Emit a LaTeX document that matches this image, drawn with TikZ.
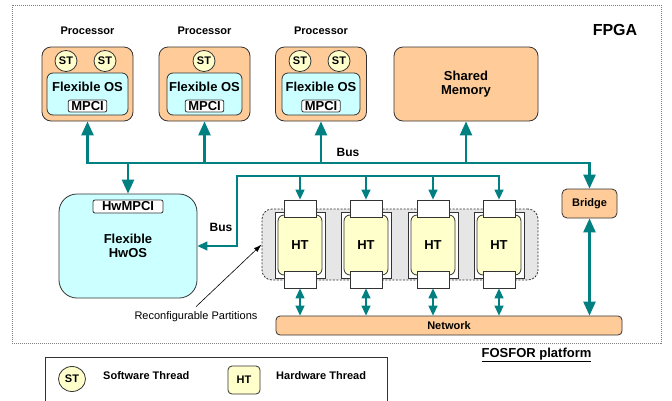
\documentclass[tikz,border=0pt]{standalone}
\usepackage{fontspec}
\setmainfont{Liberation Sans}
\usetikzlibrary{arrows.meta,shapes.geometric}
\definecolor{peach}{RGB}{255,204,153}
\definecolor{icecyan}{RGB}{204,255,255}
\definecolor{paleyel}{RGB}{255,255,204}
\definecolor{busteal}{RGB}{0,128,128}
\definecolor{partgray}{RGB}{230,230,230}
\tikzset{
  lbl/.style={inner sep=0pt, font=\fontsize{11}{13}\selectfont\bfseries},
  big/.style={inner sep=0pt, font=\fontsize{13}{14}\selectfont\bfseries},
  box/.style={draw=black!80, line width=0.8pt, inner sep=0pt},
  proc/.style={box, fill=peach, rounded corners=9pt, minimum width=91pt, minimum height=74pt},
  osbox/.style={box, fill=icecyan, rounded corners=6pt, minimum height=42pt},
  tag/.style={box, fill=white, rounded corners=2pt, minimum height=12pt, inner xsep=3pt,
    font=\fontsize{13}{14}\selectfont\bfseries},
  sthread/.style={box, ellipse, fill=paleyel, minimum width=22pt, minimum height=21pt,
    font=\fontsize{11}{12}\selectfont\bfseries},
  hthread/.style={box, fill=paleyel, rounded corners=6pt, minimum width=44pt, minimum height=60pt,
    font=\fontsize{13}{14}\selectfont\bfseries},
  port/.style={box, fill=white, minimum width=32pt, minimum height=17pt},
  tip/.tip={Triangle[length=14pt, width=12pt]},
  stip/.tip={Triangle[length=10pt, width=9pt]},
  bus/.style={busteal, line width=2.5pt},
  tbus/.style={busteal, line width=1.3pt},
}
\begin{document}
\begin{tikzpicture}[x=1pt, y=-1pt]
  \useasboundingbox (0,0) rectangle (672,400);
  \clip (0,0) rectangle (672,400);

  \draw[gray, dash pattern=on 1pt off 1pt] (12,5) rectangle (661,343);
  \node[inner sep=0pt, font=\fontsize{16}{18}\selectfont\bfseries] (fpga) at (615,30) {FPGA};

  % processors
  \foreach \x/\w [count=\i] in {87.5/81, 204.5/75, 321/78} {
    \node[lbl] (ptitle\i) at (\x,31) {Processor};
    \node[proc] (proc\i) at (\x,84) {};
    \node[osbox, minimum width=\w] (os\i) at (\x,94) {};
    \node[big] (osname\i) at (\x,87) {Flexible OS};
    \node[tag] (mpci\i) at (\x,106) {MPCI};
  }
  \node[sthread] (st1a) at (66,61) {ST};
  \node[sthread] (st1b) at (105,61) {ST};
  \node[sthread] (st2a) at (204,61) {ST};
  \node[sthread] (st3a) at (300,61) {ST};
  \node[sthread] (st3b) at (339,61) {ST};

  \node[proc, minimum width=144pt, big, align=center] (shmem) at (466,84) {Shared\\Memory};

  \node[box, fill=icecyan, rounded corners=18pt, minimum width=138pt, minimum height=104pt,
    big, align=center] (hwos) at (128,246) {Flexible\\HwOS};
  \node[tag, minimum width=70pt, minimum height=13pt] (hwmpci) at (128,206.5) {HwMPCI};

  \node[box, fill=peach, rounded corners=5pt, minimum width=55pt, minimum height=29pt,
    font=\fontsize{11}{12}\selectfont\bfseries] (bridge) at (589.5,203.5) {Bridge};
  \node[box, fill=peach, rounded corners=4pt, minimum width=346pt, minimum height=19pt,
    font=\fontsize{11}{12}\selectfont\bfseries] (net) at (449,325.5) {Network};

  % reconfigurable partitions
  \node[draw=black!80, line width=0.8pt, dash pattern=on 2pt off 1.5pt, fill=partgray,
    rounded corners=10pt, minimum width=276pt, minimum height=71pt] (rp) at (400,244.5) {};
  \foreach \x [count=\i] in {300,366,433,499} {
    \node[box, fill=white, minimum width=50pt, minimum height=66pt] (slot\i) at (\x,245) {};
    \node[hthread] (ht\i) at (\x,245) {HT};
    \node[port] (tp\i) at (\x,208.5) {};
    \node[port] (bp\i) at (\x,279.5) {};
    \draw[tbus, stip-stip] (bp\i.south) -- (bp\i.south |- net.north);
  }

  % buses
  \coordinate (busy) at (0,163);
  \coordinate (tbc) at (237,176);
  \coordinate (tbd) at (237,246);
  \draw[bus, tip-tip] (proc1.south) -- (proc1.south |- busy) -- (bridge.north |- busy) -- (bridge.north);
  \draw[bus, -tip] (proc2.south |- busy) -- (proc2.south);
  \draw[bus, -tip] (proc3.south |- busy) -- (proc3.south);
  \draw[bus, -tip] (shmem.south |- busy) -- (shmem.south);
  \draw[bus, -tip] (hwos.north |- busy) -- (hwos.north);
  \draw[bus, tip-tip] (bridge.south) -- (bridge.south |- net.north);
  \node[lbl, font=\fontsize{12}{13}\selectfont\bfseries] (busa) at (348,152) {Bus};

  \draw[tbus, stip-stip] (tp4.north) -- (tp4.north |- tbc) -- (tbc) -- (tbd) -- (hwos.east |- tbd);
  \foreach \i in {1,2,3}
    \draw[tbus, -stip] (tp\i.north |- tbc) -- (tp\i.north);
  \node[lbl, font=\fontsize{12}{13}\selectfont\bfseries] (busb) at (221,227) {Bus};

  \node[inner sep=0pt, font=\fontsize{11}{13}\selectfont] (rptext) at (196,317) {Reconfigurable Partitions};
  \draw[line width=0.6pt, -{Latex[length=8pt, width=5pt]}] ([yshift=5pt]rptext.north) -- (rp.west);

  \node[big] (plat) at (536.5,355) {\underline{FOSFOR platform}};

  % legend
  \node[box, minimum width=342pt, minimum height=54pt] (legend) at (216,384) {};
  \node[sthread, minimum width=27pt, minimum height=25pt] (stkey) at (72,379) {ST};
  \node[lbl, anchor=west] (stdesc) at (103,376) {Software Thread};
  \node[box, fill=paleyel, rounded corners=4pt, minimum width=32pt, minimum height=28pt,
    font=\fontsize{11}{12}\selectfont\bfseries] (htkey) at (244,380) {HT};
  \node[lbl, anchor=west] (htdesc) at (276,376) {Hardware Thread};
\end{tikzpicture}
\end{document}
